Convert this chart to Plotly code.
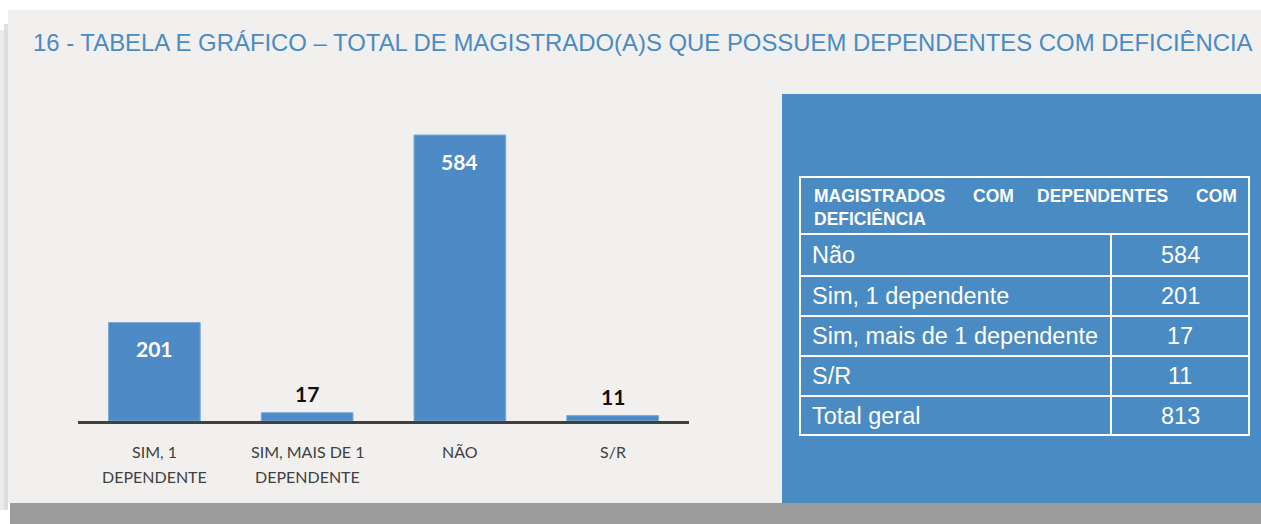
import plotly.graph_objects as go

# ---- data ----
categories = ["SIM, 1<br>DEPENDENTE", "SIM, MAIS DE 1<br>DEPENDENTE", "NÃO", "S/R"]
values = [201, 17, 584, 11]
title_text = "16 - TABELA E GRÁFICO – TOTAL DE MAGISTRADO(A)S QUE POSSUEM DEPENDENTES COM DEFICIÊNCIA"
table_header_words = ["MAGISTRADOS", "COM", "DEPENDENTES", "COM"]
table_header_line2 = "DEFICIÊNCIA"
table_labels = ["Não", "Sim, 1 dependente", "Sim, mais de 1 dependente", "S/R", "Total geral"]
table_values = [584, 201, 17, 11, 813]

W, H = 1261, 524
BAR = "#4e8ac5"
PANEL = "#4a8bc3"

def px(x):
    return x / W

def py(y):
    return 1 - y / H

fig = go.Figure()
fig.add_trace(go.Bar(
    x=list(range(len(categories))), y=values,
    marker=dict(color=BAR, line=dict(color="#7aa9d8", width=1)),
    width=0.6, hoverinfo="skip",
))

shapes = []
# background panels
shapes.append(dict(type="rect", xref="paper", yref="paper", x0=px(0), x1=px(8), y0=py(510), y1=py(30),
                   fillcolor="#ececec", line=dict(width=0), layer="below"))
shapes.append(dict(type="rect", xref="paper", yref="paper", x0=px(4), x1=px(8), y0=py(510), y1=py(24),
                   fillcolor="#dedede", line=dict(width=0), layer="below"))
shapes.append(dict(type="rect", xref="paper", yref="paper", x0=px(8), x1=px(1261), y0=py(503), y1=py(10),
                   fillcolor="#f1f0ef", line=dict(width=0), layer="below"))
shapes.append(dict(type="rect", xref="paper", yref="paper", x0=px(10), x1=px(1261), y0=py(524), y1=py(503),
                   fillcolor="#9c9c9c", line=dict(width=0), layer="below"))
shapes.append(dict(type="rect", xref="paper", yref="paper", x0=px(782), x1=px(1261), y0=py(503), y1=py(94),
                   fillcolor=PANEL, line=dict(width=0), layer="below"))

# table grid
tx0, tx1, tdiv = 800, 1249, 1111
row_edges = [177, 234, 276, 316, 356, 396, 435]
lw = 2
shapes.append(dict(type="rect", xref="paper", yref="paper", x0=px(tx0), x1=px(tx1), y0=py(row_edges[-1]), y1=py(row_edges[0]),
                   line=dict(color="white", width=lw), fillcolor="rgba(0,0,0,0)", layer="below"))
for y in row_edges[1:-1]:
    shapes.append(dict(type="line", xref="paper", yref="paper", x0=px(tx0), x1=px(tx1), y0=py(y), y1=py(y),
                       line=dict(color="white", width=lw), layer="below"))
shapes.append(dict(type="line", xref="paper", yref="paper", x0=px(tdiv), x1=px(tdiv), y0=py(row_edges[1]), y1=py(row_edges[-1]),
                   line=dict(color="white", width=lw), layer="below"))

annotations = []
# title
annotations.append(dict(text=title_text, xref="paper", yref="paper", x=px(31), y=py(43), xanchor="left", yanchor="middle",
                        showarrow=False, font=dict(family="Liberation Sans, Arial", size=23.9, color="#4a8bc4")))

# bar value labels
for i, v in enumerate(values):
    inside = v > 100
    annotations.append(dict(x=i, y=v, xref="x", yref="y", text=f"<b>{v}</b>", showarrow=False,
                            yanchor="middle", yshift=-26 if inside else 19,
                            font=dict(family="Lato, Open Sans", size=21, color="white" if inside else "#111111")))

# category labels (two lines, below the axis)
for i, cat in enumerate(categories):
    for j, line in enumerate(cat.split("<br>")):
        annotations.append(dict(x=i, xref="x", yref="paper", y=py(451 + 25 * j), text=line, showarrow=False,
                                yanchor="middle", xanchor="center",
                                font=dict(family="Lato, Open Sans", size=16, color="#404040")))

# table header (justified first line)
hx = [812, 971, 1035, 1194]
for w, x in zip(table_header_words, hx):
    annotations.append(dict(text=f"<b>{w}</b>", xref="paper", yref="paper", x=px(x), y=py(196), xanchor="left",
                            yanchor="middle", showarrow=False,
                            font=dict(family="Liberation Sans, Arial", size=17.5, color="white")))
annotations.append(dict(text=f"<b>{table_header_line2}</b>", xref="paper", yref="paper", x=px(812), y=py(218.5), xanchor="left",
                        yanchor="middle", showarrow=False,
                        font=dict(family="Liberation Sans, Arial", size=17.5, color="white")))
# table rows
for k, (lab, val) in enumerate(zip(table_labels, table_values)):
    yc = (row_edges[k + 1] + row_edges[k + 2]) / 2
    annotations.append(dict(text=lab, xref="paper", yref="paper", x=px(810), y=py(yc), xanchor="left", yanchor="middle",
                            showarrow=False, font=dict(family="Liberation Sans, Arial", size=23.5, color="white")))
    annotations.append(dict(text=str(val), xref="paper", yref="paper", x=px(1180), y=py(yc), xanchor="center", yanchor="middle",
                            showarrow=False, font=dict(family="Liberation Sans, Arial", size=23.5, color="white")))

fig.update_layout(
    width=W, height=H,
    margin=dict(l=0, r=0, t=0, b=0),
    paper_bgcolor="white", plot_bgcolor="rgba(0,0,0,0)",
    showlegend=False,
    shapes=shapes, annotations=annotations,
    xaxis=dict(domain=[px(78), px(689)], range=[-0.5, 3.5], tickmode="array",
               tickvals=list(range(len(categories))), showticklabels=False,
               showline=True, linecolor="#404040", linewidth=3, showgrid=False, zeroline=False, ticks=""),
    yaxis=dict(domain=[py(421), py(127.2)], range=[0, 600], visible=False, showgrid=False, zeroline=False),
)

fig.write_html("out.html", config={"displayModeBar": False},
               post_script="document.body.style.margin='0px';document.body.style.overflow='hidden';")
